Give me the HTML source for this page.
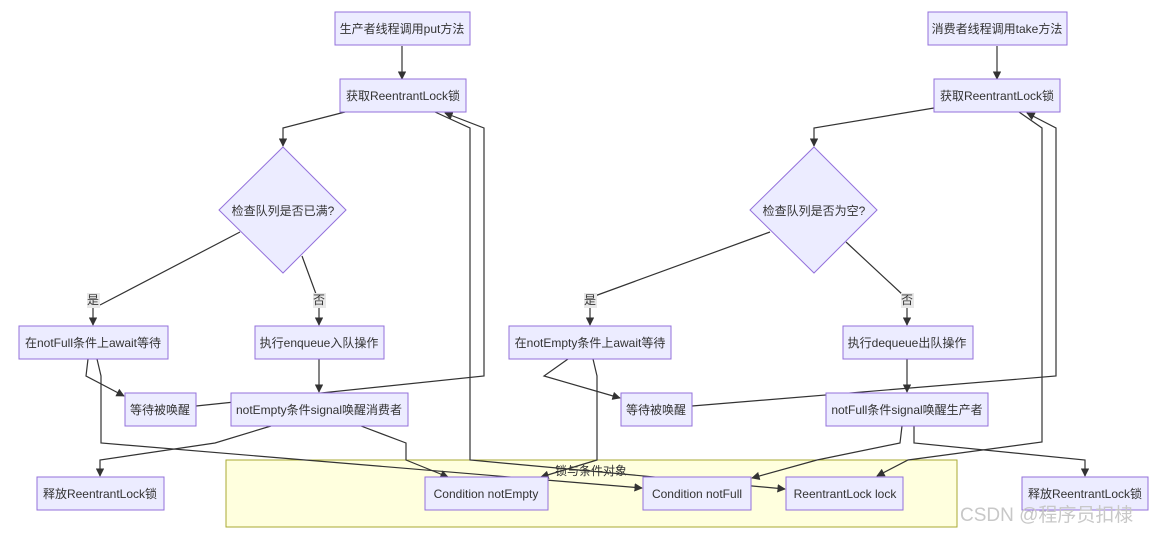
<!DOCTYPE html>
<html><head><meta charset="utf-8"><style>
html,body{margin:0;padding:0;background:#fff;}
svg{display:block;font-family:"Liberation Sans","Noto Sans CJK SC",sans-serif;}
.n{fill:#ECECFF;stroke:#9370DB;stroke-width:1;}
.t{font-size:12px;fill:#333;text-anchor:middle;dominant-baseline:central;}
.e{fill:none;stroke:#333;stroke-width:1.2;}
.lb{fill:#e8e8e8;}
</style></head><body>
<svg width="1161" height="533" viewBox="0 0 1161 533">
<defs><marker id="a" viewBox="0 0 10 10" refX="9" refY="5" markerWidth="7" markerHeight="7" orient="auto"><path d="M0,0L10,5L0,10z" fill="#333"/></marker></defs>
<rect x="226" y="460" width="731" height="67" fill="#ffffde" stroke="#aaaa33"/>

<!-- edges -->
<g class="e">
<path d="M402,46V79" marker-end="url(#a)"/>
<path d="M345,112L283,128V146" marker-end="url(#a)"/>
<path d="M240,232L100,305M93,308V325" marker-end="url(#a)"/>
<path d="M302,256L316,294M319,308V325" marker-end="url(#a)"/>
<path d="M88,359L86,376L124,396" marker-end="url(#a)"/>
<path d="M97,359L101,376V443L642,488" marker-end="url(#a)"/>
<path d="M319,359V392" marker-end="url(#a)"/>
<path d="M196,406L484,376V128L445,113" marker-end="url(#a)"/>
<path d="M435,112L470,128V460L785,489" marker-end="url(#a)"/>
<path d="M271,426L215,443L100,460V476" marker-end="url(#a)"/>
<path d="M361,426L406,443V460L448,477" marker-end="url(#a)"/>
<path d="M997,46V79" marker-end="url(#a)"/>
<path d="M934,108L814,128V146" marker-end="url(#a)"/>
<path d="M770,232L592,297M590,308V325" marker-end="url(#a)"/>
<path d="M846,242L903,295M907,308V325" marker-end="url(#a)"/>
<path d="M568,359L544,376L620,398" marker-end="url(#a)"/>
<path d="M593,359L597,376V460L541,477" marker-end="url(#a)"/>
<path d="M907,359V392" marker-end="url(#a)"/>
<path d="M692,406L1056,376V128L1027,113" marker-end="url(#a)"/>
<path d="M1019,112L1042,128V442L908,460L877,476" marker-end="url(#a)"/>
<path d="M902,426L900,443L817,460L752,478" marker-end="url(#a)"/>
<path d="M914,426V443L1085,460V476" marker-end="url(#a)"/>
</g>

<!-- edge labels -->
<rect class="lb" x="87" y="293" width="13" height="15"/><text class="t" x="93" y="300">是</text>
<rect class="lb" x="313" y="293" width="13" height="15"/><text class="t" x="319" y="300">否</text>
<rect class="lb" x="584" y="293" width="13" height="15"/><text class="t" x="590" y="300">是</text>
<rect class="lb" x="901" y="293" width="13" height="15"/><text class="t" x="907" y="300">否</text>

<!-- nodes left -->
<rect class="n" x="335" y="12" width="135" height="33"/><text class="t" x="402" y="29">生产者线程调用put方法</text>
<rect class="n" x="340" y="79" width="126" height="33"/><text class="t" x="403" y="96">获取ReentrantLock锁</text>
<polygon class="n" points="283,147 346,210 283,273 219,210"/><text class="t" x="283" y="211">检查队列是否已满?</text>
<rect class="n" x="19" y="326" width="149" height="33"/><text class="t" x="93" y="343">在notFull条件上await等待</text>
<rect class="n" x="255" y="326" width="129" height="33"/><text class="t" x="319" y="343">执行enqueue入队操作</text>
<rect class="n" x="125" y="393" width="71" height="33"/><text class="t" x="160" y="410">等待被唤醒</text>
<rect class="n" x="231" y="393" width="177" height="33"/><text class="t" x="319" y="410">notEmpty条件signal唤醒消费者</text>
<rect class="n" x="37" y="477" width="127" height="33"/><text class="t" x="100" y="494">释放ReentrantLock锁</text>

<!-- nodes right -->
<rect class="n" x="928" y="12" width="139" height="33"/><text class="t" x="997" y="29">消费者线程调用take方法</text>
<rect class="n" x="934" y="79" width="126" height="33"/><text class="t" x="997" y="96">获取ReentrantLock锁</text>
<polygon class="n" points="814,147 877,210 814,273 750,210"/><text class="t" x="814" y="211">检查队列是否为空?</text>
<rect class="n" x="509" y="326" width="162" height="33"/><text class="t" x="590" y="343">在notEmpty条件上await等待</text>
<rect class="n" x="843" y="326" width="130" height="33"/><text class="t" x="907" y="343">执行dequeue出队操作</text>
<rect class="n" x="621" y="393" width="71" height="33"/><text class="t" x="656" y="410">等待被唤醒</text>
<rect class="n" x="826" y="393" width="162" height="33"/><text class="t" x="907" y="410">notFull条件signal唤醒生产者</text>
<rect class="n" x="1022" y="477" width="126" height="33"/><text class="t" x="1085" y="494">释放ReentrantLock锁</text>

<!-- cluster nodes -->
<rect class="n" x="425" y="477" width="123" height="33"/><text class="t" x="486" y="494">Condition notEmpty</text>
<rect class="n" x="643" y="477" width="108" height="33"/><text class="t" x="697" y="494">Condition notFull</text>
<rect class="n" x="786" y="477" width="117" height="33"/><text class="t" x="845" y="494">ReentrantLock lock</text>
<text class="t" x="591" y="471">锁与条件对象</text>

<text x="960" y="521" font-size="19" fill="#c8c8c8">CSDN @程序员扣棣</text>
</svg>
</body></html>
